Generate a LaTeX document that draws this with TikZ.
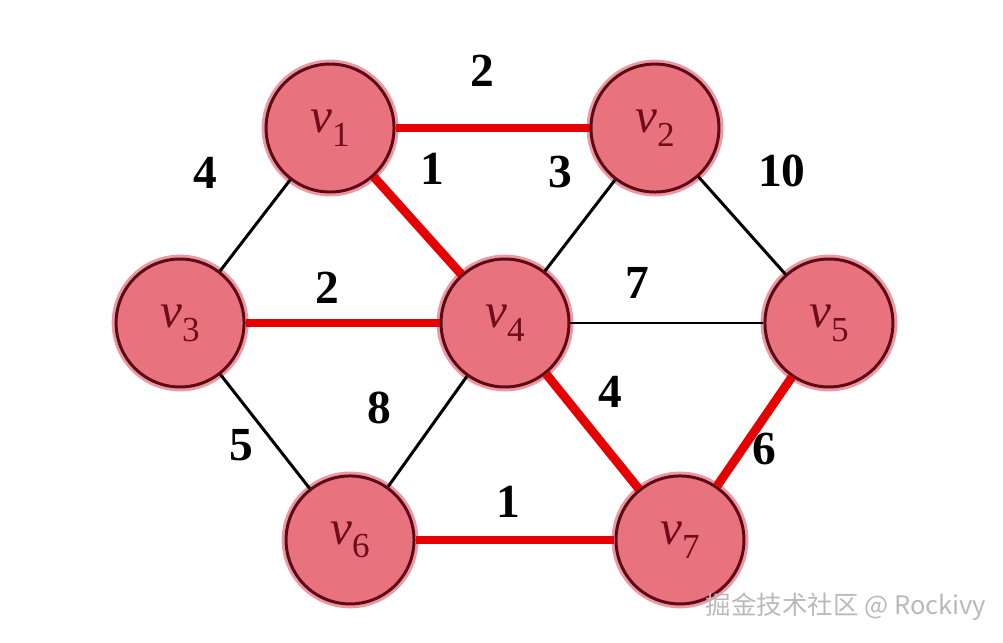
\documentclass[tikz,border=0pt]{standalone}
\usepackage{fontspec}
\setmainfont{Liberation Serif}
\newfontfamily\cjkfont{Noto Sans CJK SC}
\usetikzlibrary{positioning}

\definecolor{vfill}{HTML}{E8737F}
\definecolor{vline}{HTML}{5E0A14}
\definecolor{vhalo}{HTML}{EC97A1}
\definecolor{vtext}{HTML}{6E0C1A}
\definecolor{treered}{HTML}{E60000}

\newcommand{\vlab}[1]{\textit{v}\raisebox{-0.28em}{\fontsize{20}{20}\selectfont #1}}

\begin{document}
\begin{tikzpicture}[
    x=0.02cm, y=0.02cm, on grid,
    vertex/.style={circle, draw=vline, line width=1.7pt, fill=vfill, minimum size=2.56cm, inner sep=0pt, text=vtext, font=\fontsize{28}{28}\selectfont, preaction={draw=vhalo, line width=5pt}},
    tree/.style={draw=treered, line width=5pt},
    edge/.style={draw=black, line width=1.7pt},
    weight/.style={font=\fontsize{27}{27}\selectfont\bfseries, inner sep=0pt}
]
\useasboundingbox (0,0) rectangle (1003,642);
\node[vertex] (v4) at (505,319) {\vlab{4}};
\node[vertex, above left=3.9cm and 3.5cm of v4] (v1) {\vlab{1}};
\node[vertex, above right=3.9cm and 3cm of v4] (v2) {\vlab{2}};
\node[vertex, left=6.5cm of v4] (v3) {\vlab{3}};
\node[vertex, right=6.48cm of v4] (v5) {\vlab{5}};
\node[vertex, below left=4.34cm and 3.1cm of v4] (v6) {\vlab{6}};
\node[vertex, below right=4.34cm and 3.5cm of v4] (v7) {\vlab{7}};
% spanning tree
\draw[tree] (v1) -- node[weight, shift={(-10,57)}] {2} (v2);
\draw[tree] (v1) -- node[weight, shift={(15,57)}] {1} (v4);
\draw[tree] (v3) -- node[weight, shift={(-15,35)}] {2} (v4);
\draw[tree] (v4) -- node[weight, shift={(18,40)}] {4} (v7);
\draw[tree] (v5) -- node[weight, shift={(10,-18)}] {6} (v7);
\draw[tree] (v6) -- node[weight, shift={(-7,38)}] {1} (v7);
% other edges
\draw[edge] (v1) -- node[weight, shift={(-50,53)}] {4} (v3);
\draw[edge] (v2) -- node[weight, shift={(-20,53)}] {3} (v4);
\draw[edge] (v2) -- node[weight, shift={(40,55)}] {10} (v5);
\draw[edge] (v4) -- node[weight, shift={(-30,40)}] {7} (v5);
\draw[edge] (v4) -- node[weight, shift={(-48,24)}] {8} (v6);
\draw[edge] (v3) -- node[weight, shift={(-24,-14)}] {5} (v6);
\node[font=\cjkfont\fontsize{14.5}{14.5}\selectfont, text=gray!55] (mark) at (846,35) {掘金技术社区 @ Rockivy};
\end{tikzpicture}
\end{document}
